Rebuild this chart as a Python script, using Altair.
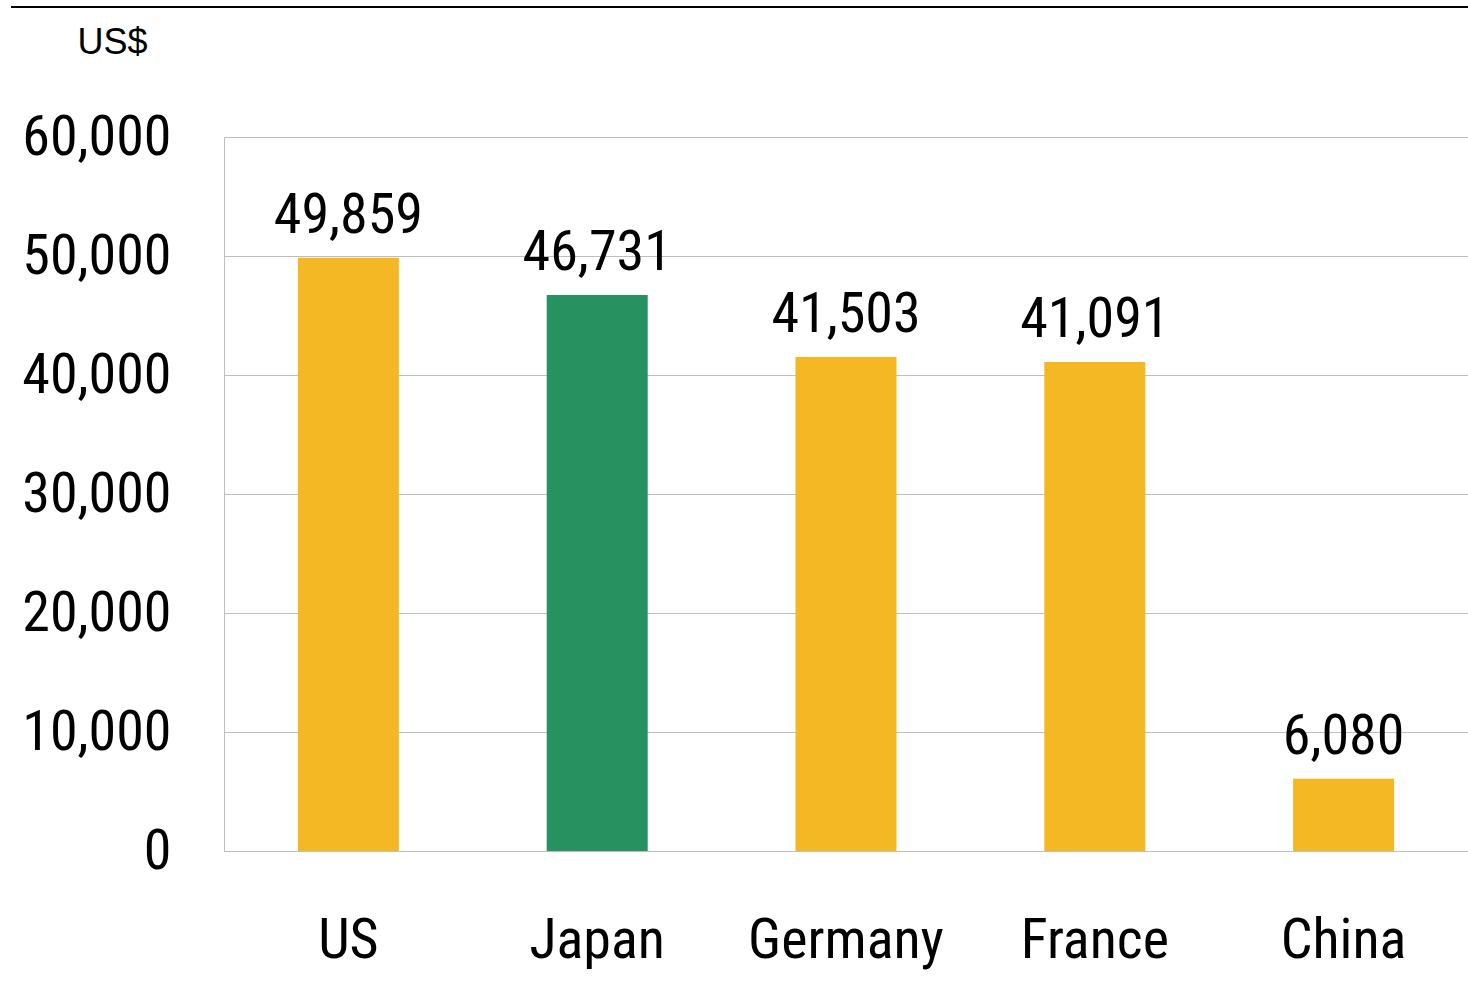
import altair as alt
import pandas as pd

countries = ["US", "Japan", "Germany", "France", "China"]
values = [49859, 46731, 41503, 41091, 6080]
y_ticks = [0, 10000, 20000, 30000, 40000, 50000, 60000]

YELLOW = "#F3B823"
GREEN = "#279160"
GRID = "#BFBFBF"
FONT = "'Roboto Condensed', 'Liberation Sans Narrow', 'Arial Narrow', 'DejaVu Sans Condensed', sans-serif"
FONT_REG = "'Liberation Sans', Arial, sans-serif"
FS = 56

df = pd.DataFrame({"country": countries, "value": values})

W, H = 1244, 714

x_enc = alt.X(
    "country:N",
    sort=countries,
    scale=alt.Scale(paddingInner=0.6, paddingOuter=0.3),
    axis=alt.Axis(
        title=None,
        labelAngle=0,
        labelFont=FONT,
        labelFontSize=FS,
        labelColor="#000000",
        labelPadding=62,
        labelBaseline="top",
        labelLimit=0,
        ticks=False,
        domainColor=GRID,
        domainWidth=1,
    ),
)

y_enc = alt.Y(
    "value:Q",
    scale=alt.Scale(domain=[0, 60000], nice=False),
    axis=alt.Axis(
        values=y_ticks,
        format=",.0f",
        title="US$",
        titleAngle=0,
        titleX=-147,
        titleY=-84,
        titleAlign="left",
        titleBaseline="alphabetic",
        titleFont=FONT_REG,
        titleFontSize=36,
        titleFontWeight="normal",
        titleColor="#000000",
        labelFont=FONT,
        labelFontSize=FS,
        labelColor="#000000",
        labelPadding=53,
        labelBaseline="middle",
        labelLimit=0,
        ticks=False,
        grid=True,
        gridColor=GRID,
        gridWidth=1,
        domainColor=GRID,
        domainWidth=1,
    ),
)

bars = alt.Chart(df).mark_bar(size=101).encode(
    x=x_enc,
    y=y_enc,
    color=alt.condition(alt.datum.country == "Japan", alt.value(GREEN), alt.value(YELLOW)),
)

labels = alt.Chart(df).mark_text(
    baseline="alphabetic",
    align="center",
    dy=-25,
    font=FONT,
    fontSize=FS,
    color="#000000",
).encode(
    x=alt.X("country:N", sort=countries),
    y=alt.Y("value:Q"),
    text=alt.Text("value:Q", format=",.0f"),
)

top_rule = alt.Chart(df).mark_rule(color="#000000", strokeWidth=2).encode(
    x=alt.value(-213),
    x2=alt.value(W),
    y=alt.value(-130),
)

chart = (
    alt.layer(bars, labels, top_rule)
    .properties(
        width=W,
        height=H,
        autosize=alt.AutoSizeParams(type="none"),
        padding={"left": 224, "top": 137, "right": 0, "bottom": 140},
    )
    .configure_view(strokeOpacity=0)
    .configure(background="#FFFFFF")
)

chart.save("out.html", embed_options={"renderer": "svg", "actions": False})
